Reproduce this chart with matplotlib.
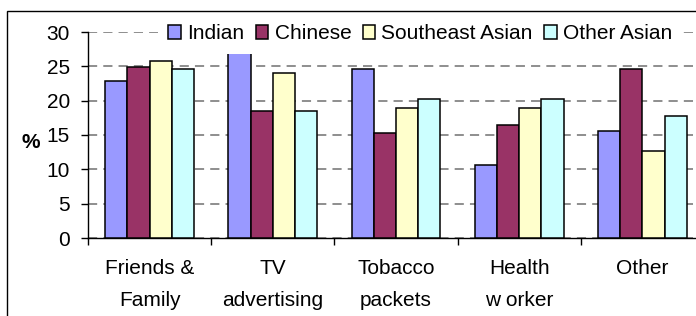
import matplotlib
matplotlib.use("Agg")
import matplotlib.pyplot as plt
import numpy as np
from matplotlib.patches import Rectangle

categories = ["Friends &\nFamily", "TV\nadvertising", "Tobacco\npackets", "Health\nw orker", "Other"]
groups = ["Indian", "Chinese", "Southeast Asian", "Other Asian"]
indian = [22.9, 29.0, 24.6, 10.7, 15.6]
chinese = [24.9, 18.5, 15.3, 16.5, 24.6]
se_asian = [25.8, 24.1, 18.9, 18.9, 12.7]
other_asian = [24.6, 18.5, 20.3, 20.3, 17.7]
colors = ["#9999FF", "#993366", "#FFFFCC", "#CCFFFF"]

plt.rcParams["font.family"] = ["Liberation Sans", "DejaVu Sans"]
FS = 15
W, H = 696, 316
fig = plt.figure(figsize=(W / 100, H / 100), dpi=100)
ax = fig.add_axes([88 / W, 1 - 238 / H, 616 / W, 206 / H])

x = np.arange(len(categories))
bw = 0.18
for i, (vals, c, name) in enumerate(zip([indian, chinese, se_asian, other_asian], colors, groups)):
    ax.bar(x + (i - 1.5) * bw, vals, bw, color=c, edgecolor="black", linewidth=1.1,
           label=name, zorder=3)

ax.set_xlim(-0.5, len(categories) - 0.5)
ax.set_ylim(0, 30)
ax.set_yticks(range(0, 31, 5))
ax.yaxis.grid(True, color="#707070", linestyle=(0, (6, 4)), linewidth=1.1, zorder=0)
ax.set_axisbelow(True)
ax.set_xticks(x)
ax.set_xticklabels(categories, linespacing=1.85)
ax.set_xticks(np.arange(-0.5, len(categories)), minor=True)
ax.tick_params(axis="x", which="major", length=0, pad=15, labelsize=FS)
ax.tick_params(axis="x", which="minor", length=5, width=1)
ax.tick_params(axis="y", length=5, width=1, pad=8, labelsize=FS)
for s in ["top", "right"]:
    ax.spines[s].set_visible(False)
for s in ["left", "bottom"]:
    ax.spines[s].set_linewidth(1.0)
ax.set_ylabel("%", rotation=0, fontsize=FS, fontweight="bold", va="center", ha="center")
ax.yaxis.set_label_coords(-57 / 616, 0.465)

leg = fig.legend(loc="upper left", bbox_to_anchor=(158 / W, 1 - 14 / H), ncol=4,
                 frameon=True, fontsize=FS, handlelength=0.6, handleheight=0.6,
                 handletextpad=0.3, columnspacing=0.55, borderpad=0.5,
                 borderaxespad=0)
leg.get_frame().set_edgecolor("none")
leg.get_frame().set_facecolor("white")
leg.get_frame().set_alpha(1)
leg.set_zorder(10)

fig.patches.append(Rectangle((7 / W, -0.1), 1.1, 1.1 - 11 / H, transform=fig.transFigure,
                             fill=False, edgecolor="black", linewidth=1.0))

fig.savefig("out.png", dpi=100)
